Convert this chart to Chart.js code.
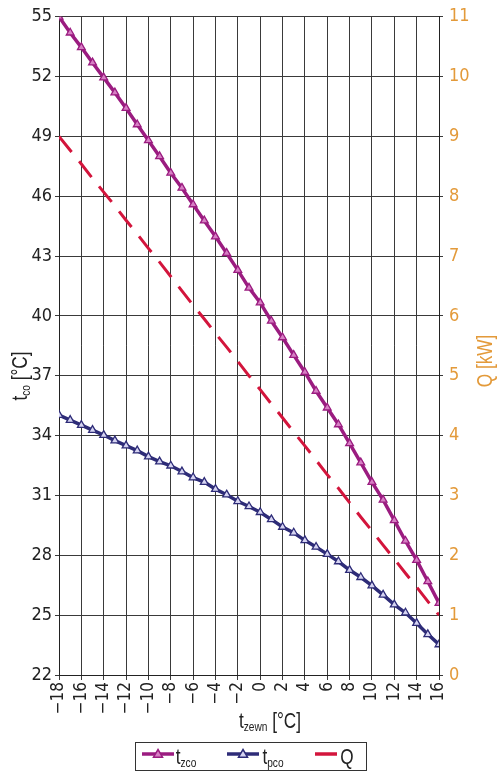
<!DOCTYPE html>
<html>
<head>
<meta charset="utf-8">
<script src="https://cdn.jsdelivr.net/npm/chart.js@4/dist/chart.umd.min.js"></script>
<style>
html, body { margin: 0; padding: 0; background: #fff; }
#wrap { position: relative; width: 497px; height: 772px; }
</style>
</head>
<body>
<div id="wrap"><canvas id="c" width="497" height="772"></canvas></div>
<script>
// outdoor temperature, degC
const temps = [-18,-17,-16,-15,-14,-13,-12,-11,-10,-9,-8,-7,-6,-5,-4,-3,-2,-1,0,1,2,3,4,5,6,7,8,9,10,11,12,13,14,15,16];
// supply temp t_zco
const tZco = [55.0,54.2,53.47,52.7,51.95,51.2,50.42,49.6,48.8,48.0,47.17,46.42,45.59,44.78,43.98,43.15,42.3,41.41,40.67,39.75,38.92,38.04,37.18,36.24,35.4,34.56,33.61,32.65,31.67,30.78,29.75,28.72,27.76,26.69,25.6];
// return temp t_pco
const tPco = [35.03,34.78,34.53,34.28,34.03,33.75,33.5,33.25,32.95,32.7,32.49,32.2,31.9,31.67,31.32,31.04,30.71,30.45,30.16,29.8,29.42,29.13,28.75,28.42,28.06,27.69,27.26,26.9,26.48,26.02,25.53,25.12,24.6,24.04,23.53];
// heat load Q, kW (right axis)
const qLoad = [9.0,8.77,8.54,8.3,8.07,7.84,7.6,7.37,7.13,6.9,6.66,6.42,6.18,5.95,5.71,5.48,5.24,5.0,4.77,4.53,4.3,4.06,3.83,3.59,3.35,3.12,2.88,2.64,2.41,2.17,1.94,1.7,1.47,1.23,1.0];

const xTicks = [-18,-16,-14,-12,-10,-8,-6,-4,-2,0,2,4,6,8,10,12,14,16];
const leftTicks = [22,25,28,31,34,37,40,43,46,49,52,55];
const rightTicks = [0,1,2,3,4,5,6,7,8,9,10,11];

const TICKFONT = "'DejaVu Sans Condensed', 'Liberation Sans', sans-serif";
const FONT = "'Liberation Sans', sans-serif";
const SX = 0.78; // condensed look for titles
const C_ZCO = '#9b1c80';
const C_PCO = '#2e2c78';
const C_Q = '#d3153c';
const C_ORANGE = '#e39a3a';
const GRID = '#3a3a3a';

function pts(ys) { return temps.map((t, i) => ({ x: t, y: ys[i] })); }
function minus(v) { return String(v).replace('-', '\u2212'); }

// draw text pieces with subscripts, centred on (cx, y)
function drawParts(ctx, cx, cy, parts, color) {
  ctx.save();
  ctx.translate(cx, cy);
  ctx.scale(SX, 1);
  let w = 0;
  parts.forEach(p => { ctx.font = p[1] + 'px ' + FONT; w += ctx.measureText(p[0]).width; });
  let x = -w / 2;
  ctx.fillStyle = color;
  ctx.textBaseline = 'alphabetic';
  ctx.textAlign = 'left';
  parts.forEach(p => {
    ctx.font = p[1] + 'px ' + FONT;
    ctx.fillText(p[0], x, p[2] || 0);
    x += ctx.measureText(p[0]).width;
  });
  ctx.restore();
}

function legendItem(ctx, x0, x1, y, color, marker, fill) {
  ctx.save();
  ctx.strokeStyle = color;
  ctx.lineWidth = 3.5;
  ctx.beginPath(); ctx.moveTo(x0, y); ctx.lineTo(x1, y); ctx.stroke();
  if (marker) {
    const mx = (x0 + x1) / 2, r = 4.5;
    ctx.beginPath();
    ctx.moveTo(mx, y - r);
    ctx.lineTo(mx + r, y + r * 0.7);
    ctx.lineTo(mx - r, y + r * 0.7);
    ctx.closePath();
    ctx.fillStyle = fill; ctx.fill();
    ctx.lineWidth = 1.5; ctx.stroke();
  }
  ctx.restore();
}

const extras = {
  id: 'extras',
  afterDraw(chart) {
    const ctx = chart.ctx;
    ctx.save();
    // x title
    drawParts(ctx, 270, 728, [['t', 22], ['zewn', 13, 3], [' [\u00b0C]', 22]], '#222');
    // left title
    ctx.save();
    ctx.translate(27, 376); ctx.rotate(-Math.PI / 2);
    drawParts(ctx, 0, 0, [['t', 22], ['co', 13, 3], [' [\u00b0C]', 22]], '#222');
    ctx.restore();
    // right title
    ctx.save();
    ctx.translate(492, 361); ctx.rotate(-Math.PI / 2);
    drawParts(ctx, 0, 0, [['Q [kW]', 22]], C_ORANGE);
    ctx.restore();
    // legend
    ctx.strokeStyle = '#333'; ctx.lineWidth = 1;
    ctx.strokeRect(135.5, 742.5, 231, 28);
    legendItem(ctx, 142, 174, 754, C_ZCO, true, '#d77fc4');
    drawParts(ctx, 186, 764, [['t', 22], ['zco', 13, 3]], '#222');
    legendItem(ctx, 227, 259, 754, C_PCO, true, '#d6d4f2');
    drawParts(ctx, 273, 764, [['t', 22], ['pco', 13, 3]], '#222');
    legendItem(ctx, 315, 337, 754, C_Q, false);
    drawParts(ctx, 347, 764, [['Q', 22]], '#222');
    ctx.restore();
  }
};

new Chart(document.getElementById('c'), {
  type: 'line',
  data: {
    datasets: [
      { label: 'tzco', data: pts(tZco), yAxisID: 'y', borderColor: C_ZCO, borderWidth: 3.5,
        pointStyle: 'triangle', pointRadius: 4.5, pointBorderWidth: 1.3,
        pointBackgroundColor: '#d77fc4', pointBorderColor: C_ZCO, tension: 0 },
      { label: 'tpco', data: pts(tPco), yAxisID: 'y', borderColor: C_PCO, borderWidth: 3.5,
        pointStyle: 'triangle', pointRadius: 4.5, pointBorderWidth: 1.3,
        pointBackgroundColor: '#d6d4f2', pointBorderColor: C_PCO, tension: 0 },
      { label: 'Q', data: pts(qLoad), yAxisID: 'y2', borderColor: C_Q, borderWidth: 3,
        borderDash: [20, 12], pointRadius: 0, tension: 0 }
    ]
  },
  options: {
    responsive: false,
    animation: false,
    devicePixelRatio: 1,
    layout: { padding: { top: 12, left: 0, right: 0, bottom: 0 } },
    plugins: { legend: { display: false }, tooltip: { enabled: false } },
    scales: {
      x: {
        type: 'linear', min: -18, max: 16,
        afterBuildTicks: s => { s.ticks = xTicks.map(v => ({ value: v })); },
        afterFit: s => { s.height = 97; },
        ticks: { autoSkip: false, minRotation: 90, maxRotation: 90, padding: 2, color: '#222',
          font: { family: TICKFONT, size: 17 }, callback: v => minus(v) },
        grid: { color: GRID, tickLength: 5 },
        border: { color: '#222' }
      },
      y: {
        position: 'left', min: 22, max: 55,
        afterBuildTicks: s => { s.ticks = leftTicks.map(v => ({ value: v })); },
        afterFit: s => { s.width = 59; },
        ticks: { autoSkip: false, padding: 3, color: '#222', font: { family: TICKFONT, size: 18 } },
        grid: { color: GRID, tickLength: 4 },
        border: { color: '#222' }
      },
      y2: {
        position: 'right', min: 0, max: 11,
        afterBuildTicks: s => { s.ticks = rightTicks.map(v => ({ value: v })); },
        afterFit: s => { s.width = 58; },
        ticks: { autoSkip: false, padding: 6, color: C_ORANGE, font: { family: TICKFONT, size: 18 } },
        grid: { drawOnChartArea: false, color: GRID, tickLength: 4 },
        border: { color: '#222' }
      }
    }
  },
  plugins: [extras]
});
</script>
</body>
</html>
